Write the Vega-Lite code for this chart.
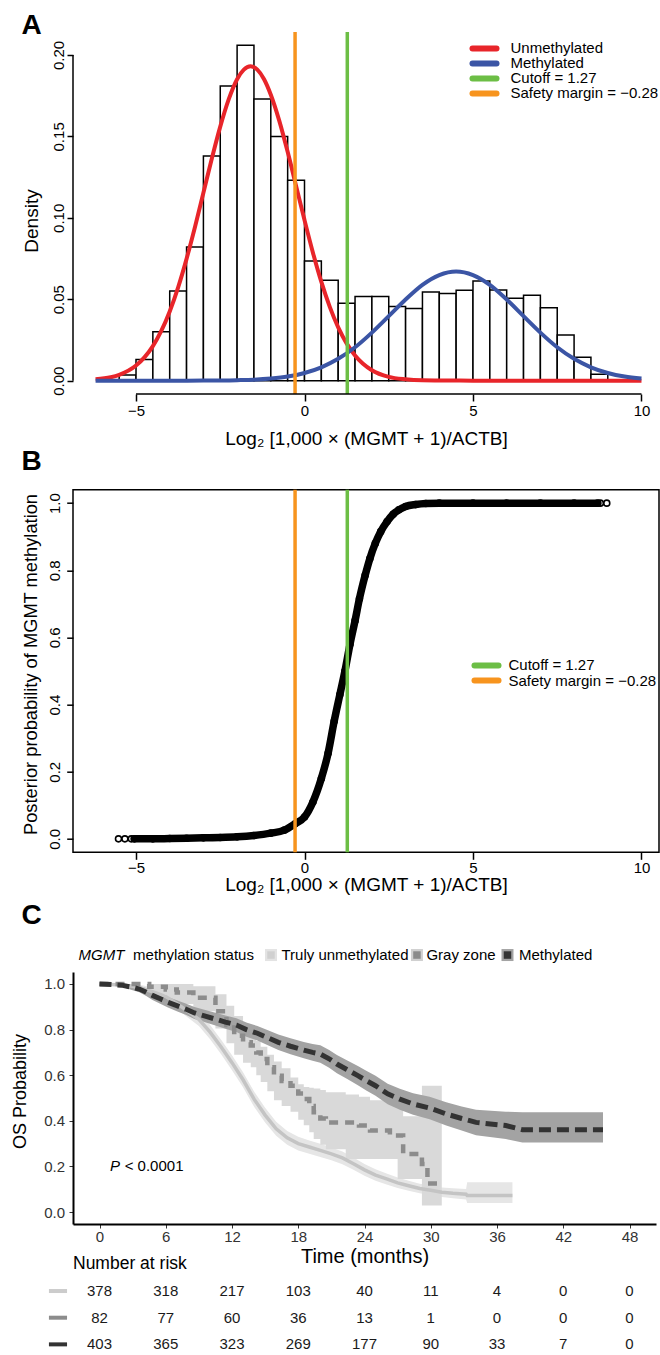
{
  "$schema": "https://vega.github.io/schema/vega-lite/v6.json",
  "background": "white",
  "padding": {"left": 11, "top": 12, "right": 0, "bottom": 0},
  "config": {
    "font": "Liberation Sans",
    "view": {"stroke": null},
    "axis": {"grid": false, "labelColor": "#000", "tickColor": "#000", "domainColor": "#000", "titleColor": "#000", "titleFontWeight": "normal", "labelFont": "Liberation Sans", "titleFont": "Liberation Sans", "labelFlush": false, "labelOverlap": false},
    "title": {"font": "Liberation Sans", "color": "#000"},
    "text": {"font": "Liberation Sans"}
  },
  "datasets": {
    "hist": [
      {"lo": -5.5, "hi": -5, "density": 0.0035}, {"lo": -5, "hi": -4.5, "density": 0.013}, {"lo": -4.5, "hi": -4, "density": 0.030},
      {"lo": -4, "hi": -3.5, "density": 0.055}, {"lo": -3.5, "hi": -3, "density": 0.082}, {"lo": -3, "hi": -2.5, "density": 0.138},
      {"lo": -2.5, "hi": -2, "density": 0.181}, {"lo": -2, "hi": -1.5, "density": 0.206}, {"lo": -1.5, "hi": -1, "density": 0.173},
      {"lo": -1, "hi": -0.5, "density": 0.150}, {"lo": -0.5, "hi": 0, "density": 0.123}, {"lo": 0, "hi": 0.5, "density": 0.0735},
      {"lo": 0.5, "hi": 1, "density": 0.0616}, {"lo": 1, "hi": 1.5, "density": 0.0476}, {"lo": 1.5, "hi": 2, "density": 0.0516},
      {"lo": 2, "hi": 2.5, "density": 0.0516}, {"lo": 2.5, "hi": 3, "density": 0.0455}, {"lo": 3, "hi": 3.5, "density": 0.0443},
      {"lo": 3.5, "hi": 4, "density": 0.0545}, {"lo": 4, "hi": 4.5, "density": 0.0535}, {"lo": 4.5, "hi": 5, "density": 0.0555},
      {"lo": 5, "hi": 5.5, "density": 0.0612}, {"lo": 5.5, "hi": 6, "density": 0.0557}, {"lo": 6, "hi": 6.5, "density": 0.0506},
      {"lo": 6.5, "hi": 7, "density": 0.0524}, {"lo": 7, "hi": 7.5, "density": 0.0447}, {"lo": 7.5, "hi": 8, "density": 0.028},
      {"lo": 8, "hi": 8.5, "density": 0.0143}, {"lo": 8.5, "hi": 9, "density": 0.004}
    ],
    "curves": [
      {"comp": "Unmethylated", "x": -6.2, "d": 0.0008}, {"comp": "Unmethylated", "x": -5.75, "d": 0.0021}, {"comp": "Unmethylated", "x": -5.5, "d": 0.0036},
      {"comp": "Unmethylated", "x": -5, "d": 0.0093}, {"comp": "Unmethylated", "x": -4.75, "d": 0.0143}, {"comp": "Unmethylated", "x": -4.5, "d": 0.0212},
      {"comp": "Unmethylated", "x": -4.25, "d": 0.0305}, {"comp": "Unmethylated", "x": -4, "d": 0.0425}, {"comp": "Unmethylated", "x": -3.75, "d": 0.0573},
      {"comp": "Unmethylated", "x": -3.5, "d": 0.0748}, {"comp": "Unmethylated", "x": -3.25, "d": 0.0944}, {"comp": "Unmethylated", "x": -3, "d": 0.1154},
      {"comp": "Unmethylated", "x": -2.75, "d": 0.1364}, {"comp": "Unmethylated", "x": -2.5, "d": 0.156}, {"comp": "Unmethylated", "x": -2.25, "d": 0.1727},
      {"comp": "Unmethylated", "x": -2, "d": 0.1851}, {"comp": "Unmethylated", "x": -1.8, "d": 0.191}, {"comp": "Unmethylated", "x": -1.6, "d": 0.193},
      {"comp": "Unmethylated", "x": -1.4, "d": 0.191}, {"comp": "Unmethylated", "x": -1.2, "d": 0.1851}, {"comp": "Unmethylated", "x": -1, "d": 0.1756},
      {"comp": "Unmethylated", "x": -0.75, "d": 0.1597}, {"comp": "Unmethylated", "x": -0.5, "d": 0.1405}, {"comp": "Unmethylated", "x": -0.25, "d": 0.1196},
      {"comp": "Unmethylated", "x": 0, "d": 0.0986}, {"comp": "Unmethylated", "x": 0.25, "d": 0.0786}, {"comp": "Unmethylated", "x": 0.5, "d": 0.0606},
      {"comp": "Unmethylated", "x": 0.75, "d": 0.0453}, {"comp": "Unmethylated", "x": 1, "d": 0.0327}, {"comp": "Unmethylated", "x": 1.25, "d": 0.0229},
      {"comp": "Unmethylated", "x": 1.5, "d": 0.0155}, {"comp": "Unmethylated", "x": 2, "d": 0.0064}, {"comp": "Unmethylated", "x": 2.5, "d": 0.0023},
      {"comp": "Unmethylated", "x": 3, "d": 0.0008}, {"comp": "Unmethylated", "x": 3.5, "d": 0.0002}, {"comp": "Unmethylated", "x": 4, "d": 0.0001},
      {"comp": "Unmethylated", "x": 5, "d": 0}, {"comp": "Unmethylated", "x": 6, "d": 0}, {"comp": "Unmethylated", "x": 7, "d": 0},
      {"comp": "Unmethylated", "x": 8, "d": 0}, {"comp": "Unmethylated", "x": 9, "d": 0}, {"comp": "Unmethylated", "x": 10, "d": 0},
      {"comp": "Methylated", "x": -6.2, "d": 0}, {"comp": "Methylated", "x": -5, "d": 0}, {"comp": "Methylated", "x": -4, "d": 0},
      {"comp": "Methylated", "x": -3, "d": 0.00004}, {"comp": "Methylated", "x": -2, "d": 0.0003}, {"comp": "Methylated", "x": -1.5, "d": 0.0006},
      {"comp": "Methylated", "x": -1, "d": 0.0013}, {"comp": "Methylated", "x": -0.5, "d": 0.0025}, {"comp": "Methylated", "x": 0, "d": 0.0047},
      {"comp": "Methylated", "x": 0.5, "d": 0.0082}, {"comp": "Methylated", "x": 1, "d": 0.0134}, {"comp": "Methylated", "x": 1.5, "d": 0.0205},
      {"comp": "Methylated", "x": 2, "d": 0.0295}, {"comp": "Methylated", "x": 2.5, "d": 0.0396}, {"comp": "Methylated", "x": 3, "d": 0.0498},
      {"comp": "Methylated", "x": 3.5, "d": 0.0588}, {"comp": "Methylated", "x": 4, "d": 0.0648}, {"comp": "Methylated", "x": 4.5, "d": 0.067},
      {"comp": "Methylated", "x": 5, "d": 0.0648}, {"comp": "Methylated", "x": 5.5, "d": 0.0588}, {"comp": "Methylated", "x": 6, "d": 0.0498},
      {"comp": "Methylated", "x": 6.5, "d": 0.0396}, {"comp": "Methylated", "x": 7, "d": 0.0295}, {"comp": "Methylated", "x": 7.5, "d": 0.0205},
      {"comp": "Methylated", "x": 8, "d": 0.0134}, {"comp": "Methylated", "x": 8.5, "d": 0.0082}, {"comp": "Methylated", "x": 9, "d": 0.0047},
      {"comp": "Methylated", "x": 9.5, "d": 0.0025}, {"comp": "Methylated", "x": 10, "d": 0.0013}
    ],
    "cuts": [
      {"label": "Cutoff = 1.27", "x": 1.27},
      {"label": "Safety margin = −0.28", "x": -0.28}
    ],
    "post": [
      {"x": -5.52, "p": 0}, {"x": -5.33, "p": 0}, {"x": -5.14, "p": 0}, {"x": -5.05, "p": 0}, {"x": -4.5, "p": 0},
      {"x": -4, "p": 0.001}, {"x": -3.5, "p": 0.002}, {"x": -3, "p": 0.003}, {"x": -2.5, "p": 0.004}, {"x": -2, "p": 0.006},
      {"x": -1.5, "p": 0.01}, {"x": -1, "p": 0.017}, {"x": -0.6, "p": 0.026}, {"x": -0.28, "p": 0.045}, {"x": 0, "p": 0.065},
      {"x": 0.25, "p": 0.11}, {"x": 0.5, "p": 0.18}, {"x": 0.7, "p": 0.255}, {"x": 0.88, "p": 0.35}, {"x": 1.05, "p": 0.43},
      {"x": 1.2, "p": 0.5}, {"x": 1.35, "p": 0.58}, {"x": 1.5, "p": 0.65}, {"x": 1.63, "p": 0.715}, {"x": 1.8, "p": 0.785},
      {"x": 1.94, "p": 0.835}, {"x": 2.1, "p": 0.88}, {"x": 2.26, "p": 0.915}, {"x": 2.45, "p": 0.945}, {"x": 2.63, "p": 0.967},
      {"x": 2.8, "p": 0.98}, {"x": 3, "p": 0.99}, {"x": 3.3, "p": 0.996}, {"x": 3.6, "p": 0.999}, {"x": 4, "p": 1},
      {"x": 5, "p": 1}, {"x": 6, "p": 1}, {"x": 7, "p": 1}, {"x": 8, "p": 1}, {"x": 8.7, "p": 1},
      {"x": 8.78, "p": 1}, {"x": 8.97, "p": 1}
    ],
    "km": [
      {"g": "Truly unmethylated", "t": 0, "s": 1.0, "lo": 1.0, "hi": 1.0},
      {"g": "Truly unmethylated", "t": 1.5, "s": 0.997, "lo": 0.991, "hi": 1.0},
      {"g": "Truly unmethylated", "t": 3, "s": 0.99, "lo": 0.98, "hi": 1.0},
      {"g": "Truly unmethylated", "t": 4, "s": 0.978, "lo": 0.963, "hi": 0.993},
      {"g": "Truly unmethylated", "t": 5, "s": 0.963, "lo": 0.945, "hi": 0.981},
      {"g": "Truly unmethylated", "t": 6, "s": 0.945, "lo": 0.924, "hi": 0.966},
      {"g": "Truly unmethylated", "t": 7, "s": 0.915, "lo": 0.891, "hi": 0.939},
      {"g": "Truly unmethylated", "t": 8, "s": 0.88, "lo": 0.853, "hi": 0.907},
      {"g": "Truly unmethylated", "t": 9, "s": 0.845, "lo": 0.816, "hi": 0.874},
      {"g": "Truly unmethylated", "t": 10, "s": 0.79, "lo": 0.759, "hi": 0.821},
      {"g": "Truly unmethylated", "t": 11, "s": 0.725, "lo": 0.693, "hi": 0.757},
      {"g": "Truly unmethylated", "t": 12, "s": 0.655, "lo": 0.622, "hi": 0.688},
      {"g": "Truly unmethylated", "t": 13, "s": 0.58, "lo": 0.547, "hi": 0.613},
      {"g": "Truly unmethylated", "t": 14, "s": 0.495, "lo": 0.462, "hi": 0.528},
      {"g": "Truly unmethylated", "t": 15, "s": 0.425, "lo": 0.393, "hi": 0.457},
      {"g": "Truly unmethylated", "t": 16, "s": 0.365, "lo": 0.334, "hi": 0.396},
      {"g": "Truly unmethylated", "t": 17, "s": 0.325, "lo": 0.295, "hi": 0.355},
      {"g": "Truly unmethylated", "t": 18, "s": 0.3, "lo": 0.27, "hi": 0.33},
      {"g": "Truly unmethylated", "t": 19, "s": 0.285, "lo": 0.256, "hi": 0.314},
      {"g": "Truly unmethylated", "t": 20, "s": 0.27, "lo": 0.241, "hi": 0.299},
      {"g": "Truly unmethylated", "t": 21, "s": 0.255, "lo": 0.227, "hi": 0.283},
      {"g": "Truly unmethylated", "t": 22, "s": 0.237, "lo": 0.209, "hi": 0.265},
      {"g": "Truly unmethylated", "t": 23, "s": 0.212, "lo": 0.185, "hi": 0.239},
      {"g": "Truly unmethylated", "t": 24, "s": 0.185, "lo": 0.159, "hi": 0.211},
      {"g": "Truly unmethylated", "t": 25, "s": 0.162, "lo": 0.137, "hi": 0.187},
      {"g": "Truly unmethylated", "t": 26, "s": 0.145, "lo": 0.121, "hi": 0.169},
      {"g": "Truly unmethylated", "t": 27, "s": 0.128, "lo": 0.105, "hi": 0.151},
      {"g": "Truly unmethylated", "t": 28, "s": 0.115, "lo": 0.093, "hi": 0.137},
      {"g": "Truly unmethylated", "t": 29, "s": 0.103, "lo": 0.082, "hi": 0.124},
      {"g": "Truly unmethylated", "t": 30, "s": 0.095, "lo": 0.074, "hi": 0.116},
      {"g": "Truly unmethylated", "t": 31, "s": 0.087, "lo": 0.066, "hi": 0.108},
      {"g": "Truly unmethylated", "t": 32, "s": 0.082, "lo": 0.06, "hi": 0.104},
      {"g": "Truly unmethylated", "t": 33.2, "s": 0.078, "lo": 0.055, "hi": 0.101},
      {"g": "Truly unmethylated", "t": 33.3, "s": 0.072, "lo": 0.039, "hi": 0.13},
      {"g": "Truly unmethylated", "t": 37.4, "s": 0.072, "lo": 0.039, "hi": 0.13},
      {"g": "Gray zone", "t": 0, "s": 1.0, "lo": 1.0, "hi": 1.0},
      {"g": "Gray zone", "t": 4.5, "s": 0.988, "lo": 0.955, "hi": 1.0},
      {"g": "Gray zone", "t": 6.0, "s": 0.976, "lo": 0.93, "hi": 1.0},
      {"g": "Gray zone", "t": 7.0, "s": 0.963, "lo": 0.912, "hi": 1.0},
      {"g": "Gray zone", "t": 8.5, "s": 0.94, "lo": 0.88, "hi": 0.99},
      {"g": "Gray zone", "t": 10.5, "s": 0.88, "lo": 0.805, "hi": 0.955},
      {"g": "Gray zone", "t": 11.5, "s": 0.82, "lo": 0.74, "hi": 0.905},
      {"g": "Gray zone", "t": 12.2, "s": 0.773, "lo": 0.69, "hi": 0.86},
      {"g": "Gray zone", "t": 13.0, "s": 0.745, "lo": 0.655, "hi": 0.815},
      {"g": "Gray zone", "t": 13.7, "s": 0.73, "lo": 0.635, "hi": 0.775},
      {"g": "Gray zone", "t": 14.2, "s": 0.7, "lo": 0.6, "hi": 0.75},
      {"g": "Gray zone", "t": 14.6, "s": 0.671, "lo": 0.57, "hi": 0.725},
      {"g": "Gray zone", "t": 15.2, "s": 0.635, "lo": 0.53, "hi": 0.69},
      {"g": "Gray zone", "t": 15.8, "s": 0.598, "lo": 0.49, "hi": 0.66},
      {"g": "Gray zone", "t": 16.5, "s": 0.575, "lo": 0.465, "hi": 0.63},
      {"g": "Gray zone", "t": 17.3, "s": 0.554, "lo": 0.44, "hi": 0.59},
      {"g": "Gray zone", "t": 18.0, "s": 0.52, "lo": 0.405, "hi": 0.56},
      {"g": "Gray zone", "t": 18.5, "s": 0.496, "lo": 0.38, "hi": 0.548},
      {"g": "Gray zone", "t": 19.0, "s": 0.465, "lo": 0.35, "hi": 0.545},
      {"g": "Gray zone", "t": 19.4, "s": 0.437, "lo": 0.32, "hi": 0.542},
      {"g": "Gray zone", "t": 20.0, "s": 0.41, "lo": 0.295, "hi": 0.535},
      {"g": "Gray zone", "t": 20.5, "s": 0.393, "lo": 0.275, "hi": 0.525},
      {"g": "Gray zone", "t": 22.3, "s": 0.393, "lo": 0.232, "hi": 0.515},
      {"g": "Gray zone", "t": 23.5, "s": 0.379, "lo": 0.232, "hi": 0.505},
      {"g": "Gray zone", "t": 24.5, "s": 0.357, "lo": 0.232, "hi": 0.49},
      {"g": "Gray zone", "t": 26.3, "s": 0.335, "lo": 0.232, "hi": 0.47},
      {"g": "Gray zone", "t": 27.0, "s": 0.335, "lo": 0.145, "hi": 0.46},
      {"g": "Gray zone", "t": 27.5, "s": 0.254, "lo": 0.145, "hi": 0.42},
      {"g": "Gray zone", "t": 29.2, "s": 0.211, "lo": 0.028, "hi": 0.554},
      {"g": "Gray zone", "t": 29.7, "s": 0.125, "lo": 0.028, "hi": 0.554},
      {"g": "Gray zone", "t": 31.0, "s": 0.125, "lo": 0.028, "hi": 0.554},
      {"g": "Methylated", "t": 0, "s": 1.0, "lo": 1.0, "hi": 1.0},
      {"g": "Methylated", "t": 2.0, "s": 0.995, "lo": 0.988, "hi": 1.0},
      {"g": "Methylated", "t": 3.0, "s": 0.985, "lo": 0.973, "hi": 0.997},
      {"g": "Methylated", "t": 3.6, "s": 0.978, "lo": 0.964, "hi": 0.992},
      {"g": "Methylated", "t": 4.2, "s": 0.965, "lo": 0.948, "hi": 0.982},
      {"g": "Methylated", "t": 4.8, "s": 0.95, "lo": 0.93, "hi": 0.97},
      {"g": "Methylated", "t": 5.5, "s": 0.935, "lo": 0.913, "hi": 0.957},
      {"g": "Methylated", "t": 6.2, "s": 0.92, "lo": 0.897, "hi": 0.943},
      {"g": "Methylated", "t": 7.0, "s": 0.905, "lo": 0.881, "hi": 0.929},
      {"g": "Methylated", "t": 7.8, "s": 0.89, "lo": 0.865, "hi": 0.915},
      {"g": "Methylated", "t": 8.6, "s": 0.873, "lo": 0.847, "hi": 0.899},
      {"g": "Methylated", "t": 9.5, "s": 0.86, "lo": 0.833, "hi": 0.887},
      {"g": "Methylated", "t": 10.5, "s": 0.846, "lo": 0.818, "hi": 0.874},
      {"g": "Methylated", "t": 11.4, "s": 0.833, "lo": 0.804, "hi": 0.862},
      {"g": "Methylated", "t": 12.4, "s": 0.82, "lo": 0.79, "hi": 0.85},
      {"g": "Methylated", "t": 13.3, "s": 0.8, "lo": 0.769, "hi": 0.831},
      {"g": "Methylated", "t": 14.3, "s": 0.784, "lo": 0.752, "hi": 0.816},
      {"g": "Methylated", "t": 15.2, "s": 0.765, "lo": 0.732, "hi": 0.798},
      {"g": "Methylated", "t": 16.2, "s": 0.744, "lo": 0.71, "hi": 0.778},
      {"g": "Methylated", "t": 17.3, "s": 0.727, "lo": 0.692, "hi": 0.762},
      {"g": "Methylated", "t": 18.5, "s": 0.71, "lo": 0.674, "hi": 0.746},
      {"g": "Methylated", "t": 19.3, "s": 0.7, "lo": 0.663, "hi": 0.737},
      {"g": "Methylated", "t": 20.0, "s": 0.693, "lo": 0.655, "hi": 0.731},
      {"g": "Methylated", "t": 20.8, "s": 0.672, "lo": 0.633, "hi": 0.711},
      {"g": "Methylated", "t": 21.5, "s": 0.649, "lo": 0.609, "hi": 0.689},
      {"g": "Methylated", "t": 22.4, "s": 0.625, "lo": 0.584, "hi": 0.666},
      {"g": "Methylated", "t": 23.4, "s": 0.598, "lo": 0.556, "hi": 0.64},
      {"g": "Methylated", "t": 24.2, "s": 0.575, "lo": 0.532, "hi": 0.618},
      {"g": "Methylated", "t": 25.0, "s": 0.554, "lo": 0.51, "hi": 0.598},
      {"g": "Methylated", "t": 26.1, "s": 0.518, "lo": 0.473, "hi": 0.563},
      {"g": "Methylated", "t": 27.2, "s": 0.495, "lo": 0.449, "hi": 0.541},
      {"g": "Methylated", "t": 28.4, "s": 0.474, "lo": 0.427, "hi": 0.521},
      {"g": "Methylated", "t": 29.9, "s": 0.456, "lo": 0.407, "hi": 0.505},
      {"g": "Methylated", "t": 31.4, "s": 0.43, "lo": 0.379, "hi": 0.481},
      {"g": "Methylated", "t": 32.8, "s": 0.41, "lo": 0.357, "hi": 0.463},
      {"g": "Methylated", "t": 34.1, "s": 0.393, "lo": 0.337, "hi": 0.449},
      {"g": "Methylated", "t": 36.8, "s": 0.379, "lo": 0.32, "hi": 0.44},
      {"g": "Methylated", "t": 38.3, "s": 0.361, "lo": 0.305, "hi": 0.437},
      {"g": "Methylated", "t": 45.6, "s": 0.361, "lo": 0.305, "hi": 0.437}
    ],
    "risk": [
      {"g": "Truly unmethylated", "t": 0, "n": 378}, {"g": "Truly unmethylated", "t": 6, "n": 318}, {"g": "Truly unmethylated", "t": 12, "n": 217},
      {"g": "Truly unmethylated", "t": 18, "n": 103}, {"g": "Truly unmethylated", "t": 24, "n": 40}, {"g": "Truly unmethylated", "t": 30, "n": 11},
      {"g": "Truly unmethylated", "t": 36, "n": 4}, {"g": "Truly unmethylated", "t": 42, "n": 0}, {"g": "Truly unmethylated", "t": 48, "n": 0},
      {"g": "Gray zone", "t": 0, "n": 82}, {"g": "Gray zone", "t": 6, "n": 77}, {"g": "Gray zone", "t": 12, "n": 60},
      {"g": "Gray zone", "t": 18, "n": 36}, {"g": "Gray zone", "t": 24, "n": 13}, {"g": "Gray zone", "t": 30, "n": 1},
      {"g": "Gray zone", "t": 36, "n": 0}, {"g": "Gray zone", "t": 42, "n": 0}, {"g": "Gray zone", "t": 48, "n": 0},
      {"g": "Methylated", "t": 0, "n": 403}, {"g": "Methylated", "t": 6, "n": 365}, {"g": "Methylated", "t": 12, "n": 323},
      {"g": "Methylated", "t": 18, "n": 269}, {"g": "Methylated", "t": 24, "n": 177}, {"g": "Methylated", "t": 30, "n": 90},
      {"g": "Methylated", "t": 36, "n": 33}, {"g": "Methylated", "t": 42, "n": 7}, {"g": "Methylated", "t": 48, "n": 0}
    ]
  },
  "resolve": {"scale": {"color": "independent", "x": "independent", "y": "independent"}, "legend": {"color": "independent"}},
  "spacing": 5,
  "vconcat": [
    {
      "bounds": "flush",
      "spacing": 95.7,
      "resolve": {"scale": {"color": "independent", "x": "independent", "y": "independent"}, "legend": {"color": "independent"}},
      "vconcat": [
        {
          "width": 586,
          "height": 362,
          "title": {"text": "A", "anchor": "start", "frame": "group", "dx": -51.5, "offset": -32, "fontSize": 28, "fontWeight": "bold", "baseline": "alphabetic"},
          "layer": [
            {
              "data": {"name": "hist"},
              "mark": {"type": "rect", "fill": "white", "stroke": "black", "strokeWidth": 1.5},
              "encoding": {
                "x": {"field": "lo", "type": "quantitative", "scale": {"domain": [-6.87, 10.52], "nice": false, "zero": false},
                  "axis": {"values": [-5, 0, 5, 10], "domain": false, "tickSize": 7, "tickWidth": 1.5, "labelPadding": 2, "labelFontSize": 15,
                    "title": "Log₂ [1,000 × (MGMT + 1)/ACTB]", "titleFontSize": 19, "titleY": 50, "titleBaseline": "alphabetic"}},
                "x2": {"field": "hi"},
                "y": {"field": "density", "type": "quantitative", "scale": {"domain": [-0.0082, 0.2141], "nice": false, "zero": false},
                  "axis": {"values": [0, 0.05, 0.1, 0.15, 0.2], "format": ".2f", "domain": false, "tickSize": 6, "tickWidth": 1.5,
                    "labelAngle": 270, "labelAlign": "center", "labelBaseline": "bottom", "labelPadding": 1, "labelFontSize": 15,
                    "title": "Density", "titleFontSize": 19, "titleX": -36, "titleY": 188.5, "titleAngle": 270, "titleBaseline": "alphabetic", "titleAlign": "center"}},
                "y2": {"datum": 0}
              }
            },
            {
              "data": {"name": "curves"},
              "mark": {"type": "line", "strokeWidth": 4, "interpolate": "monotone"},
              "encoding": {
                "x": {"field": "x", "type": "quantitative"},
                "y": {"field": "d", "type": "quantitative"},
                "color": {"field": "comp", "type": "nominal",
                  "scale": {"domain": ["Unmethylated", "Methylated", "Cutoff = 1.27", "Safety margin = −0.28"], "range": ["#E8252A", "#3B55A5", "#6CBE45", "#F7941E"]},
                  "legend": null}
              }
            },
            {
              "data": {"name": "cuts"},
              "mark": {"type": "rule", "strokeWidth": 3.5},
              "encoding": {
                "x": {"field": "x", "type": "quantitative"},
                "color": {"field": "label", "type": "nominal", "legend": null}
              }
            },
            {
              "data": {"values": [{}]},
              "mark": {"type": "rule", "strokeWidth": 1.5, "color": "black"},
              "encoding": {"x": {"datum": -5}, "x2": {"datum": 10}, "y": {"datum": -0.0082}}
            },
            {
              "data": {"values": [{}]},
              "mark": {"type": "rule", "strokeWidth": 1.5, "color": "black"},
              "encoding": {"x": {"datum": -6.87}, "y": {"datum": 0}, "y2": {"datum": 0.2}}
            },
            {"data": {"values": [{}]}, "mark": {"type": "rule", "strokeWidth": 6, "strokeCap": "round", "color": "#E8252A"},
             "encoding": {"x": {"datum": 4.986}, "x2": {"datum": 5.698}, "y": {"datum": 0.2040}}},
            {"data": {"values": [{}]}, "mark": {"type": "rule", "strokeWidth": 6, "strokeCap": "round", "color": "#3B55A5"},
             "encoding": {"x": {"datum": 4.986}, "x2": {"datum": 5.698}, "y": {"datum": 0.1948}}},
            {"data": {"values": [{}]}, "mark": {"type": "rule", "strokeWidth": 6, "strokeCap": "round", "color": "#6CBE45"},
             "encoding": {"x": {"datum": 4.986}, "x2": {"datum": 5.698}, "y": {"datum": 0.1856}}},
            {"data": {"values": [{}]}, "mark": {"type": "rule", "strokeWidth": 6, "strokeCap": "round", "color": "#F7941E"},
             "encoding": {"x": {"datum": 4.986}, "x2": {"datum": 5.698}, "y": {"datum": 0.1764}}},
            {"data": {"values": [{}]}, "mark": {"type": "text", "text": "Unmethylated", "fontSize": 15, "align": "left", "baseline": "middle", "color": "#000"},
             "encoding": {"x": {"datum": 6.113}, "y": {"datum": 0.2040}}},
            {"data": {"values": [{}]}, "mark": {"type": "text", "text": "Methylated", "fontSize": 15, "align": "left", "baseline": "middle", "color": "#000"},
             "encoding": {"x": {"datum": 6.113}, "y": {"datum": 0.1948}}},
            {"data": {"values": [{}]}, "mark": {"type": "text", "text": "Cutoff = 1.27", "fontSize": 15, "align": "left", "baseline": "middle", "color": "#000"},
             "encoding": {"x": {"datum": 6.113}, "y": {"datum": 0.1856}}},
            {"data": {"values": [{}]}, "mark": {"type": "text", "text": "Safety margin = −0.28", "fontSize": 15, "align": "left", "baseline": "middle", "color": "#000"},
             "encoding": {"x": {"datum": 6.113}, "y": {"datum": 0.1764}}}
          ]
        },
        {
          "width": 586,
          "height": 362.6,
          "view": {"stroke": "black", "strokeWidth": 1.5},
          "title": {"text": "B", "anchor": "start", "frame": "group", "dx": -51.5, "offset": -9.7, "fontSize": 28, "fontWeight": "bold", "baseline": "alphabetic"},
          "layer": [
            {
              "data": {"name": "post"},
              "transform": [{"filter": "datum.x > -5.1 && datum.x < 8.75"}],
              "mark": {"type": "line", "color": "black", "strokeWidth": 7.5, "strokeCap": "round", "strokeJoin": "round", "interpolate": "monotone"},
              "encoding": {
                "x": {"field": "x", "type": "quantitative", "scale": {"domain": [-6.87, 10.52], "nice": false, "zero": false},
                  "axis": {"values": [-5, 0, 5, 10], "domain": false, "tickSize": 7, "tickWidth": 1.5, "labelPadding": 1, "labelFontSize": 15,
                    "title": "Log₂ [1,000 × (MGMT + 1)/ACTB]", "titleFontSize": 19, "titleY": 38.4, "titleBaseline": "alphabetic"}},
                "y": {"field": "p", "type": "quantitative", "scale": {"domain": [-0.04, 1.04], "nice": false, "zero": false},
                  "axis": {"values": [0, 0.2, 0.4, 0.6, 0.8, 1], "format": ".1f", "domain": false, "tickSize": 6.3, "tickWidth": 1.5,
                    "labelAngle": 270, "labelAlign": "center", "labelBaseline": "bottom", "labelPadding": 4, "labelFontSize": 15,
                    "title": "Posterior probability of MGMT methylation", "titleFontSize": 18.3, "titleX": -36.3, "titleY": 174.3, "titleAngle": 270, "titleBaseline": "alphabetic", "titleAlign": "center"}}
              }
            },
            {
              "data": {"name": "post"},
              "mark": {"type": "point", "shape": "circle", "filled": false, "color": "black", "size": 36, "strokeWidth": 1.6, "opacity": 1},
              "encoding": {
                "x": {"field": "x", "type": "quantitative"},
                "y": {"field": "p", "type": "quantitative"}
              }
            },
            {
              "data": {"name": "cuts"},
              "mark": {"type": "rule", "strokeWidth": 3.5},
              "encoding": {
                "x": {"field": "x", "type": "quantitative"},
                "color": {"field": "label", "type": "nominal",
                  "scale": {"domain": ["Cutoff = 1.27", "Safety margin = −0.28"], "range": ["#6CBE45", "#F7941E"]},
                  "legend": null}
              }
            },
            {"data": {"values": [{}]}, "mark": {"type": "rule", "strokeWidth": 6, "strokeCap": "round", "color": "#6CBE45"},
             "encoding": {"x": {"datum": 5.045}, "x2": {"datum": 5.757}, "y": {"datum": 0.5164}}},
            {"data": {"values": [{}]}, "mark": {"type": "rule", "strokeWidth": 6, "strokeCap": "round", "color": "#F7941E"},
             "encoding": {"x": {"datum": 5.045}, "x2": {"datum": 5.757}, "y": {"datum": 0.4717}}},
            {"data": {"values": [{}]}, "mark": {"type": "text", "text": "Cutoff = 1.27", "fontSize": 15, "align": "left", "baseline": "middle", "color": "#000"},
             "encoding": {"x": {"datum": 6.054}, "y": {"datum": 0.5164}}},
            {"data": {"values": [{}]}, "mark": {"type": "text", "text": "Safety margin = −0.28", "fontSize": 15, "align": "left", "baseline": "middle", "color": "#000"},
             "encoding": {"x": {"datum": 6.054}, "y": {"datum": 0.4717}}}
          ]
        }
      ]
    },
    {
      "bounds": "flush",
      "spacing": 53.7,
      "resolve": {"scale": {"color": "independent", "x": "independent", "y": "independent"}, "legend": {"color": "independent"}},
      "vconcat": [
        {
          "width": 583,
          "height": 252,
          "title": {"text": "C", "anchor": "start", "frame": "group", "dx": -51.5, "offset": -3.5, "fontSize": 28, "fontWeight": "bold", "baseline": "alphabetic"},
          "layer": [
            {
              "data": {"name": "km"},
              "transform": [{"filter": "datum.g == 'Truly unmethylated'"}],
              "mark": {"type": "area", "color": "#E6E6E6", "interpolate": "linear"},
              "encoding": {
                "x": {"field": "t", "type": "quantitative", "scale": {"domain": [-2.4, 50.4], "nice": false, "zero": false},
                  "axis": {"values": [0, 6, 12, 18, 24, 30, 36, 42, 48], "domainWidth": 2, "tickSize": 4, "tickColor": "#333", "labelPadding": 1,
                    "labelFontSize": 15, "labelColor": "#333", "title": "Time (months)", "titleFontSize": 20, "titleY": 38.5, "titleBaseline": "alphabetic"}},
                "y": {"field": "lo", "type": "quantitative", "scale": {"domain": [-0.0526, 1.0526], "nice": false, "zero": false},
                  "axis": {"values": [0, 0.2, 0.4, 0.6, 0.8, 1], "format": ".1f", "domainWidth": 2, "tickSize": 4, "tickColor": "#333", "labelPadding": 4.5,
                    "labelFontSize": 15, "labelColor": "#333", "title": "OS Probability", "titleFontSize": 18, "titleX": -47.2, "titleY": 119,
                    "titleAngle": 270, "titleBaseline": "alphabetic", "titleAlign": "center"}},
                "y2": {"field": "hi"}
              }
            },
            {
              "data": {"name": "km"},
              "transform": [{"filter": "datum.g == 'Gray zone'"}],
              "mark": {"type": "area", "color": "#D9D9D9", "interpolate": "step-after"},
              "encoding": {
                "x": {"field": "t", "type": "quantitative"},
                "y": {"field": "lo", "type": "quantitative"},
                "y2": {"field": "hi"}
              }
            },
            {
              "data": {"name": "km"},
              "transform": [{"filter": "datum.g == 'Methylated'"}],
              "mark": {"type": "area", "color": "#A3A3A3", "interpolate": "linear"},
              "encoding": {
                "x": {"field": "t", "type": "quantitative"},
                "y": {"field": "lo", "type": "quantitative"},
                "y2": {"field": "hi"}
              }
            },
            {
              "data": {"name": "km"},
              "transform": [{"filter": "datum.g == 'Truly unmethylated'"}],
              "mark": {"type": "line", "color": "#C4C4C4", "strokeWidth": 3.5},
              "encoding": {
                "x": {"field": "t", "type": "quantitative"},
                "y": {"field": "s", "type": "quantitative"}
              }
            },
            {
              "data": {"name": "km"},
              "transform": [{"filter": "datum.g == 'Gray zone'"}],
              "mark": {"type": "line", "color": "#8C8C8C", "strokeWidth": 4.5, "strokeDash": [9, 7], "interpolate": "step-after"},
              "encoding": {
                "x": {"field": "t", "type": "quantitative"},
                "y": {"field": "s", "type": "quantitative"}
              }
            },
            {
              "data": {"name": "km"},
              "transform": [{"filter": "datum.g == 'Methylated'"}],
              "mark": {"type": "line", "color": "#333333", "strokeWidth": 5, "strokeDash": [12, 6]},
              "encoding": {
                "x": {"field": "t", "type": "quantitative"},
                "y": {"field": "s", "type": "quantitative"}
              }
            },
            {
              "data": {"values": [{}]},
              "mark": {"type": "text", "text": "P", "fontStyle": "italic", "fontSize": 15, "align": "left", "baseline": "middle", "color": "#000"},
              "encoding": {"x": {"datum": 0.94}, "y": {"datum": 0.2}}
            },
            {
              "data": {"values": [{}]},
              "mark": {"type": "text", "text": "< 0.0001", "fontSize": 15, "align": "left", "baseline": "middle", "color": "#000"},
              "encoding": {"x": {"datum": 2.28}, "y": {"datum": 0.2}}
            },
            {
              "data": {"values": [{}]},
              "mark": {"type": "text", "text": "MGMT", "fontStyle": "italic", "fontSize": 15, "align": "left", "baseline": "middle", "color": "#000"},
              "encoding": {"x": {"datum": -1.9}, "y": {"datum": 1.127}}
            },
            {
              "data": {"values": [{}]},
              "mark": {"type": "text", "text": "methylation status", "fontSize": 15, "align": "left", "baseline": "middle", "color": "#000"},
              "encoding": {"x": {"datum": 3.04}, "y": {"datum": 1.127}}
            },
            {
              "data": {"values": [{}]},
              "mark": {"type": "square", "size": 144, "color": "#E3E3E3", "opacity": 1},
              "encoding": {"x": {"datum": 15.53}, "y": {"datum": 1.127}}
            },
            {
              "data": {"values": [{}]},
              "mark": {"type": "square", "size": 56, "color": "#D0D0D0", "opacity": 1},
              "encoding": {"x": {"datum": 15.53}, "y": {"datum": 1.127}}
            },
            {
              "data": {"values": [{}]},
              "mark": {"type": "text", "text": "Truly unmethylated", "fontSize": 15, "align": "left", "baseline": "middle", "color": "#000"},
              "encoding": {"x": {"datum": 16.48}, "y": {"datum": 1.127}}
            },
            {
              "data": {"values": [{}]},
              "mark": {"type": "square", "size": 144, "color": "#D0D0D0", "opacity": 1},
              "encoding": {"x": {"datum": 28.75}, "y": {"datum": 1.127}}
            },
            {
              "data": {"values": [{}]},
              "mark": {"type": "square", "size": 56, "color": "#8C8C8C", "opacity": 1},
              "encoding": {"x": {"datum": 28.75}, "y": {"datum": 1.127}}
            },
            {
              "data": {"values": [{}]},
              "mark": {"type": "text", "text": "Gray zone", "fontSize": 15, "align": "left", "baseline": "middle", "color": "#000"},
              "encoding": {"x": {"datum": 29.61}, "y": {"datum": 1.127}}
            },
            {
              "data": {"values": [{}]},
              "mark": {"type": "square", "size": 144, "color": "#A3A3A3", "opacity": 1},
              "encoding": {"x": {"datum": 36.95}, "y": {"datum": 1.127}}
            },
            {
              "data": {"values": [{}]},
              "mark": {"type": "square", "size": 56, "color": "#333333", "opacity": 1},
              "encoding": {"x": {"datum": 36.95}, "y": {"datum": 1.127}}
            },
            {
              "data": {"values": [{}]},
              "mark": {"type": "text", "text": "Methylated", "fontSize": 15, "align": "left", "baseline": "middle", "color": "#000"},
              "encoding": {"x": {"datum": 37.99}, "y": {"datum": 1.127}}
            }
          ]
        },
        {
          "width": 583,
          "height": 80,
          "title": {"text": "Number at risk", "anchor": "start", "frame": "group", "offset": -8.3, "fontSize": 17.5, "fontWeight": "normal", "baseline": "alphabetic"},
          "layer": [
            {
              "data": {"name": "risk"},
              "mark": {"type": "text", "fontSize": 15, "color": "#1a1a1a", "baseline": "middle"},
              "encoding": {
                "x": {"field": "t", "type": "quantitative", "scale": {"domain": [-2.4, 50.4], "nice": false, "zero": false}, "axis": null},
                "y": {"field": "g", "type": "nominal", "scale": {"type": "point", "domain": ["Truly unmethylated", "Gray zone", "Methylated"], "padding": 0.5}, "axis": null},
                "text": {"field": "n", "type": "nominal"}
              }
            },
            {
              "data": {"name": "risk"},
              "transform": [{"filter": "datum.t == 0"}],
              "mark": {"type": "rule", "strokeWidth": 4},
              "encoding": {
                "x": {"datum": -4.58},
                "x2": {"datum": -2.94},
                "y": {"field": "g", "type": "nominal", "axis": null},
                "color": {"field": "g", "type": "nominal", "scale": {"domain": ["Truly unmethylated", "Gray zone", "Methylated"], "range": ["#CCCCCC", "#8C8C8C", "#333333"]}, "legend": null}
              }
            }
          ]
        }
      ]
    }
  ]
}
